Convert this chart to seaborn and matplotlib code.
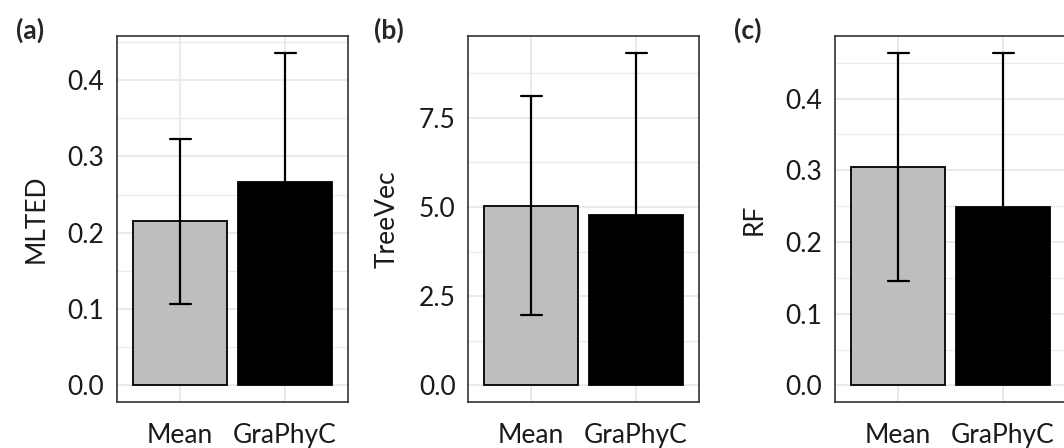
import numpy as np
import pandas as pd
import seaborn as sns
import matplotlib.pyplot as plt
from matplotlib.ticker import MultipleLocator

# data (bar = mean, whisker = +/- sd)
methods = ["Mean", "GraPhyC"]
mlted_mean = [0.215, 0.267]
mlted_sd = [0.108, 0.169]
treevec_mean = [5.04, 4.78]
treevec_sd = [3.07, 4.55]
rf_mean = [0.305, 0.249]
rf_sd = [0.159, 0.215]

panels = [
    ("(a)", "MLTED", mlted_mean, mlted_sd, 0.1),
    ("(b)", "TreeVec", treevec_mean, treevec_sd, 2.5),
    ("(c)", "RF", rf_mean, rf_sd, 0.1),
]

sns.set_style("white")
plt.rcParams['font.family'] = ['Lato', 'DejaVu Sans']

W, H = 1064, 448
fig = plt.figure(figsize=(W / 100, H / 100), dpi=100)

# axes boxes in pixels (left, right) ; top/bottom shared
lefts = [117, 468, 835]
width = 231
top, bottom = 36, 402
label_x = [30, 389, 748]

for (tag, ylab, means, sds, step), lx, tx in zip(panels, lefts, label_x):
    ax = fig.add_axes([lx / W, (H - bottom) / H, width / W, (bottom - top) / H])

    # two points per method so that mean = bar and min/max = whiskers
    df = pd.DataFrame({
        "method": np.repeat(methods, 2),
        "value": np.ravel([[m - s, m + s] for m, s in zip(means, sds)]),
    })
    sns.barplot(data=df, x="method", y="value", hue="method",
                palette=["#BEBEBE", "black"], legend=False,
                estimator="mean", errorbar=("pi", 100), capsize=0.2,
                err_kws={"color": "black", "linewidth": 1.6},
                width=0.9, edgecolor="black", linewidth=1.3, ax=ax)

    ymax = max(m + s for m, s in zip(means, sds))
    ax.set_ylim(-0.05 * ymax, 1.05 * ymax)
    ax.set_xlim(-0.6, 1.6)

    ax.yaxis.set_major_locator(MultipleLocator(step))
    ax.yaxis.set_minor_locator(MultipleLocator(step / 2))
    ax.set_axisbelow(True)
    ax.grid(True, which="major", color="#E8E8E8", linewidth=1.3)
    ax.grid(True, which="minor", axis="y", color="#EBEBEB", linewidth=0.9)
    ax.tick_params(axis="both", which="major", length=6, width=1.1,
                   color="#333333", labelsize=19, labelcolor="#1a1a1a", pad=3)
    ax.tick_params(axis="x", which="major", pad=9)
    ax.tick_params(axis="y", which="minor", length=0)
    for sp in ax.spines.values():
        sp.set_color("#333333")
        sp.set_linewidth(1.2)
        sp.set_visible(True)

    ax.set_xlabel("")
    ax.set_ylabel(ylab, fontsize=19, color="#1a1a1a", labelpad=14)

    fig.text(tx / W, 1 - 30 / H, tag, fontsize=19, fontweight="bold",
             ha="center", va="center")

fig.savefig("out.png", dpi=100)
